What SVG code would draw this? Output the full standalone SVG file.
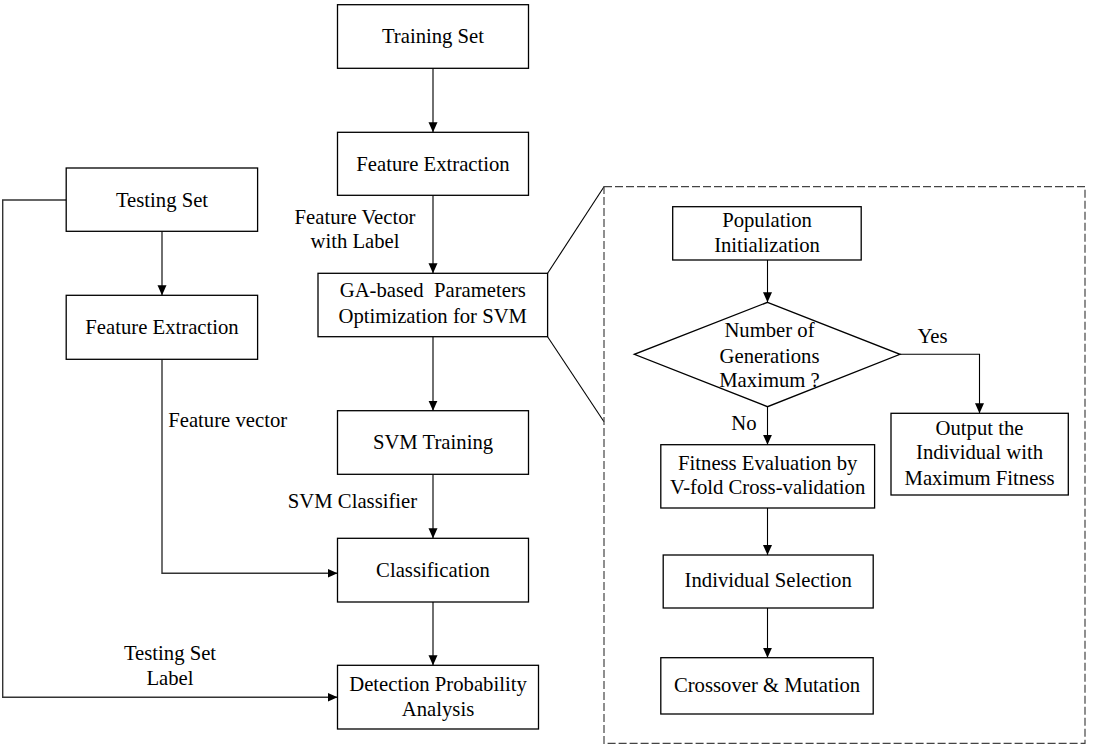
<svg xmlns="http://www.w3.org/2000/svg" width="1105" height="748" viewBox="0 0 1105 748">
<style>
  .box{fill:#fff;stroke:#000;stroke-width:1.3}
  .t{font-family:'Liberation Serif','Times New Roman',Times,serif;font-size:20.7px;fill:#000;text-anchor:middle}
  .c{fill:none;stroke:#333;stroke-width:1.4}
  .cr{fill:none;stroke:#000;stroke-width:1.1}
  .dash{fill:none;stroke:#444;stroke-width:1.2;stroke-dasharray:8 3}
</style>
<defs>
  <marker id="ah" viewBox="0 0 10 10" refX="10" refY="5" markerWidth="10" markerHeight="10" markerUnits="userSpaceOnUse" orient="auto">
    <path d="M0,0.5 L10,5 L0,9.5 Z" fill="#000"/>
  </marker>
</defs>
<rect width="1105" height="748" fill="#fff"/>

<g id="connectors">
  <line class="c" x1="433" y1="68.3" x2="433" y2="132.3" marker-end="url(#ah)"/>
  <line class="c" x1="433" y1="195.3" x2="433" y2="273.3" marker-end="url(#ah)"/>
  <line class="c" x1="433" y1="336.7" x2="433" y2="410.7" marker-end="url(#ah)"/>
  <line class="c" x1="433" y1="474.3" x2="433" y2="538.3" marker-end="url(#ah)"/>
  <line class="c" x1="433" y1="602" x2="433" y2="665.3" marker-end="url(#ah)"/>
  <line class="c" x1="162" y1="231.3" x2="162" y2="295.3" marker-end="url(#ah)"/>
  <polyline class="c" points="162,359.3 162,573.3 337.5,573.3" marker-end="url(#ah)"/>
  <polyline class="c" points="66.2,200 2.7,200 2.7,697.3 337.5,697.3" marker-end="url(#ah)"/>
  <line class="cr" x1="547.6" y1="273.3" x2="604" y2="186.7"/>
  <line class="cr" x1="547.6" y1="336.7" x2="604" y2="421.7"/>
  <line class="cr" x1="767.5" y1="260" x2="767.5" y2="302.3" marker-end="url(#ah)"/>
  <line class="cr" x1="767.5" y1="406.7" x2="767.5" y2="444.7" marker-end="url(#ah)"/>
  <polyline class="cr" points="900,354.3 979.5,354.3 979.5,413.3" marker-end="url(#ah)"/>
  <line class="cr" x1="767.5" y1="508" x2="767.5" y2="555" marker-end="url(#ah)"/>
  <line class="cr" x1="767.5" y1="608" x2="767.5" y2="657.7" marker-end="url(#ah)"/>
  <text class="t" x="355" y="224">Feature Vector</text>
  <text class="t" x="355" y="248.3">with Label</text>
  <text class="t" x="227.7" y="426.7">Feature vector</text>
  <text class="t" x="352.5" y="507.7">SVM Classifier</text>
  <text class="t" x="170" y="660">Testing Set</text>
  <text class="t" x="170" y="685">Label</text>
  <text class="t" x="932.5" y="343">Yes</text>
  <text class="t" x="744" y="430">No</text>
</g>

<g id="ga-detail">
  <rect class="dash" x="604" y="186.7" width="481" height="556.6"/>
</g>

<g id="training-set">
  <rect class="box" x="337.5" y="4.7" width="191" height="63.6"/>
  <text class="t" x="433" y="42.7">Training Set</text>
</g>
<g id="feature-extraction-train">
  <rect class="box" x="337.5" y="132.3" width="191" height="63"/>
  <text class="t" x="433" y="170.5">Feature Extraction</text>
</g>
<g id="ga-optimization">
  <rect class="box" x="318" y="273.3" width="229.6" height="63.4"/>
  <text class="t" x="432.8" y="297.3" xml:space="preserve">GA-based  Parameters</text>
  <text class="t" x="432.8" y="322.7">Optimization for SVM</text>
</g>
<g id="svm-training">
  <rect class="box" x="337.5" y="410.7" width="191" height="63.6"/>
  <text class="t" x="433" y="449">SVM Training</text>
</g>
<g id="classification">
  <rect class="box" x="337.5" y="538.3" width="191" height="63.7"/>
  <text class="t" x="433" y="577">Classification</text>
</g>
<g id="detection">
  <rect class="box" x="337.5" y="665.3" width="201" height="63.7"/>
  <text class="t" x="438" y="691">Detection Probability</text>
  <text class="t" x="438" y="716">Analysis</text>
</g>
<g id="testing-set">
  <rect class="box" x="66.2" y="168" width="191.4" height="63.3"/>
  <text class="t" x="162" y="207">Testing Set</text>
</g>
<g id="feature-extraction-test">
  <rect class="box" x="66.2" y="295.3" width="191.4" height="64"/>
  <text class="t" x="162" y="333.5">Feature Extraction</text>
</g>

<g id="population-init">
  <rect class="box" x="672.7" y="206.7" width="188.5" height="53.3"/>
  <text class="t" x="767" y="226.7">Population</text>
  <text class="t" x="767" y="252">Initialization</text>
</g>
<g id="generations-decision">
  <polygon class="box" points="767.5,302.3 900,354.3 767.5,406.7 634.3,354.3"/>
  <text class="t" x="769.5" y="336.7">Number of</text>
  <text class="t" x="769.5" y="362.7">Generations</text>
  <text class="t" x="769.5" y="386.7">Maximum ?</text>
</g>
<g id="output-individual">
  <rect class="box" x="891" y="413.3" width="177.3" height="81.7"/>
  <text class="t" x="979.5" y="435">Output the</text>
  <text class="t" x="979.5" y="459">Individual with</text>
  <text class="t" x="979.5" y="484.5">Maximum Fitness</text>
</g>
<g id="fitness-evaluation">
  <rect class="box" x="660.8" y="444.7" width="213.8" height="63.3"/>
  <text class="t" x="767.7" y="470">Fitness Evaluation by</text>
  <text class="t" x="767.7" y="494.3">V-fold Cross-validation</text>
</g>
<g id="individual-selection">
  <rect class="box" x="663.2" y="555" width="210" height="53"/>
  <text class="t" x="768.2" y="586.7">Individual Selection</text>
</g>
<g id="crossover-mutation">
  <rect class="box" x="660.8" y="657.7" width="212.4" height="56.3"/>
  <text class="t" x="767" y="691.7">Crossover &amp; Mutation</text>
</g>
</svg>
